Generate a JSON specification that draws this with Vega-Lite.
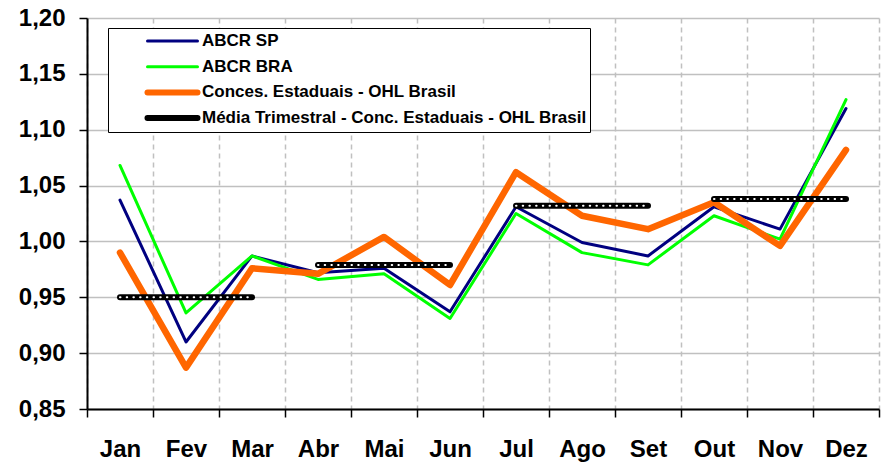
{
  "$schema": "https://vega.github.io/schema/vega-lite/v6.json",
  "width": 792,
  "height": 391,
  "autosize": {"type": "none"},
  "padding": {"left": 87, "top": 18, "right": 3, "bottom": 55},
  "background": "white",
  "config": {"view": {"stroke": null}, "font": "Liberation Sans"},
  "data": {
    "values": [
      {"month": "Jan", "series": "ABCR SP", "value": 1.037},
      {"month": "Fev", "series": "ABCR SP", "value": 0.910},
      {"month": "Mar", "series": "ABCR SP", "value": 0.987},
      {"month": "Abr", "series": "ABCR SP", "value": 0.972},
      {"month": "Mai", "series": "ABCR SP", "value": 0.976},
      {"month": "Jun", "series": "ABCR SP", "value": 0.937},
      {"month": "Jul", "series": "ABCR SP", "value": 1.031},
      {"month": "Ago", "series": "ABCR SP", "value": 0.999},
      {"month": "Set", "series": "ABCR SP", "value": 0.987},
      {"month": "Out", "series": "ABCR SP", "value": 1.031},
      {"month": "Nov", "series": "ABCR SP", "value": 1.011},
      {"month": "Dez", "series": "ABCR SP", "value": 1.119},
      {"month": "Jan", "series": "ABCR BRA", "value": 1.068},
      {"month": "Fev", "series": "ABCR BRA", "value": 0.936},
      {"month": "Mar", "series": "ABCR BRA", "value": 0.987},
      {"month": "Abr", "series": "ABCR BRA", "value": 0.966},
      {"month": "Mai", "series": "ABCR BRA", "value": 0.971},
      {"month": "Jun", "series": "ABCR BRA", "value": 0.931},
      {"month": "Jul", "series": "ABCR BRA", "value": 1.025},
      {"month": "Ago", "series": "ABCR BRA", "value": 0.990},
      {"month": "Set", "series": "ABCR BRA", "value": 0.979},
      {"month": "Out", "series": "ABCR BRA", "value": 1.023},
      {"month": "Nov", "series": "ABCR BRA", "value": 1.002},
      {"month": "Dez", "series": "ABCR BRA", "value": 1.127},
      {"month": "Jan", "series": "Conces. Estaduais - OHL Brasil", "value": 0.990},
      {"month": "Fev", "series": "Conces. Estaduais - OHL Brasil", "value": 0.887},
      {"month": "Mar", "series": "Conces. Estaduais - OHL Brasil", "value": 0.976},
      {"month": "Abr", "series": "Conces. Estaduais - OHL Brasil", "value": 0.971},
      {"month": "Mai", "series": "Conces. Estaduais - OHL Brasil", "value": 1.004},
      {"month": "Jun", "series": "Conces. Estaduais - OHL Brasil", "value": 0.961},
      {"month": "Jul", "series": "Conces. Estaduais - OHL Brasil", "value": 1.062},
      {"month": "Ago", "series": "Conces. Estaduais - OHL Brasil", "value": 1.023},
      {"month": "Set", "series": "Conces. Estaduais - OHL Brasil", "value": 1.011},
      {"month": "Out", "series": "Conces. Estaduais - OHL Brasil", "value": 1.035},
      {"month": "Nov", "series": "Conces. Estaduais - OHL Brasil", "value": 0.996},
      {"month": "Dez", "series": "Conces. Estaduais - OHL Brasil", "value": 1.082},
      {"month": "Jan", "series": "Média Trimestral - Conc. Estaduais - OHL Brasil", "quarter": "T1", "value": 0.950},
      {"month": "Fev", "series": "Média Trimestral - Conc. Estaduais - OHL Brasil", "quarter": "T1", "value": 0.950},
      {"month": "Mar", "series": "Média Trimestral - Conc. Estaduais - OHL Brasil", "quarter": "T1", "value": 0.950},
      {"month": "Abr", "series": "Média Trimestral - Conc. Estaduais - OHL Brasil", "quarter": "T2", "value": 0.979},
      {"month": "Mai", "series": "Média Trimestral - Conc. Estaduais - OHL Brasil", "quarter": "T2", "value": 0.979},
      {"month": "Jun", "series": "Média Trimestral - Conc. Estaduais - OHL Brasil", "quarter": "T2", "value": 0.979},
      {"month": "Jul", "series": "Média Trimestral - Conc. Estaduais - OHL Brasil", "quarter": "T3", "value": 1.032},
      {"month": "Ago", "series": "Média Trimestral - Conc. Estaduais - OHL Brasil", "quarter": "T3", "value": 1.032},
      {"month": "Set", "series": "Média Trimestral - Conc. Estaduais - OHL Brasil", "quarter": "T3", "value": 1.032},
      {"month": "Out", "series": "Média Trimestral - Conc. Estaduais - OHL Brasil", "quarter": "T4", "value": 1.038},
      {"month": "Nov", "series": "Média Trimestral - Conc. Estaduais - OHL Brasil", "quarter": "T4", "value": 1.038},
      {"month": "Dez", "series": "Média Trimestral - Conc. Estaduais - OHL Brasil", "quarter": "T4", "value": 1.038}
    ]
  },
  "encoding": {
    "x": {
      "field": "month",
      "type": "ordinal",
      "sort": ["Jan", "Fev", "Mar", "Abr", "Mai", "Jun", "Jul", "Ago", "Set", "Out", "Nov", "Dez"],
      "scale": {"paddingInner": 0, "paddingOuter": 0},
      "axis": {
        "title": null,
        "labelAngle": 0,
        "tickBand": "extent",
        "grid": true,
        "gridDash": [5, 4],
        "gridColor": "#c0c0c0",
        "gridWidth": 1.5,
        "domainColor": "black",
        "domainWidth": 2,
        "tickColor": "black",
        "tickSize": 8,
        "tickWidth": 1.5,
        "labelFont": "Liberation Sans",
        "labelFontWeight": "bold",
        "labelFontSize": 24,
        "labelColor": "black",
        "labelPadding": 20
      }
    },
    "y": {
      "field": "value",
      "type": "quantitative",
      "scale": {"domain": [0.85, 1.2], "nice": false, "zero": false},
      "axis": {
        "title": null,
        "values": [0.85, 0.9, 0.95, 1.0, 1.05, 1.1, 1.15, 1.2],
        "labelExpr": "replace(format(datum.value, '.2f'), '.', ',')",
        "grid": true,
        "gridColor": "#c0c0c0",
        "gridWidth": 1.5,
        "domainColor": "black",
        "domainWidth": 2,
        "tickColor": "black",
        "tickSize": 8,
        "tickWidth": 1.5,
        "labelFont": "Liberation Sans",
        "labelFontWeight": "bold",
        "labelFontSize": 24,
        "labelColor": "black",
        "labelPadding": 14
      }
    }
  },
  "layer": [
    {
      "transform": [{"filter": "datum.series === 'ABCR SP' || datum.series === 'ABCR BRA'"}],
      "mark": {"type": "line", "strokeWidth": 3, "strokeCap": "round", "strokeJoin": "round"},
      "encoding": {
        "color": {
          "field": "series",
          "type": "nominal",
          "scale": {
            "domain": ["ABCR SP", "ABCR BRA", "Conces. Estaduais - OHL Brasil", "Média Trimestral - Conc. Estaduais - OHL Brasil"],
            "range": ["#000080", "#00ff00", "#ff6600", "#000000"]
          },
          "legend": {
            "title": null,
            "orient": "none",
            "legendX": 21,
            "legendY": 10,
            "direction": "vertical",
            "symbolType": "stroke",
            "symbolSize": 2500,
            "clipHeight": 20,
            "rowPadding": 5.7,
            "padding": 3,
            "strokeColor": "black",
            "fillColor": "white",
            "labelFont": "Liberation Sans",
            "labelFontWeight": "bold",
            "labelFontSize": 17,
            "labelColor": "black",
            "labelOffset": 21,
            "labelLimit": 600,
            "symbolOffset": 53,
            "encode": {
              "symbols": {
                "update": {
                  "strokeWidth": {"signal": "indexof(['Conces. Estaduais - OHL Brasil', 'Média Trimestral - Conc. Estaduais - OHL Brasil'], datum.value) >= 0 ? 6 : 3"},
                  "strokeCap": {"value": "round"}
                }
              }
            }
          }
        }
      }
    },
    {
      "transform": [{"filter": "datum.series === 'Conces. Estaduais - OHL Brasil'"}],
      "mark": {"type": "line", "strokeWidth": 6.5, "strokeCap": "round", "strokeJoin": "round"},
      "encoding": {
        "color": {"field": "series", "type": "nominal"}
      }
    },
    {
      "transform": [{"filter": "datum.series === 'Média Trimestral - Conc. Estaduais - OHL Brasil'"}],
      "mark": {"type": "line", "strokeWidth": 6, "strokeCap": "round", "strokeJoin": "round"},
      "encoding": {
        "color": {"field": "series", "type": "nominal"},
        "detail": {"field": "quarter"}
      }
    },
    {
      "transform": [{"filter": "datum.series === 'Média Trimestral - Conc. Estaduais - OHL Brasil'"}],
      "mark": {"type": "line", "color": "white", "strokeWidth": 2, "strokeDash": [0.5, 6.2], "strokeCap": "round"},
      "encoding": {
        "detail": {"field": "quarter"}
      }
    }
  ]
}
